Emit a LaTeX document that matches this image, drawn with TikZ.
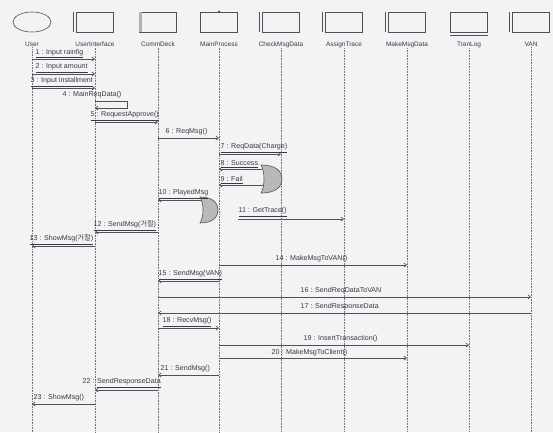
\documentclass[tikz,border=0pt]{standalone}
\usepackage{fontspec}
\setmainfont{Liberation Sans}
\newfontfamily\krfont{Noto Sans CJK KR}
\usetikzlibrary{arrows.meta,shapes.geometric}
\definecolor{bg}{HTML}{F3F3F5}
\definecolor{ln}{HTML}{505055}
\definecolor{tx}{HTML}{3A3A40}
\begin{document}
\begin{tikzpicture}[x=1pt,y=-1pt,
  headbox/.style={draw=ln,line width=0.6pt,minimum width=37pt,minimum height=20pt,inner sep=0pt},
  headell/.style={draw=ln,line width=0.6pt,ellipse,minimum width=38pt,minimum height=20pt,inner sep=0pt},
  headlbl/.style={font=\fontsize{6.5}{7}\selectfont,text=tx,inner sep=0.5pt},
  lifeln/.style={draw=ln!80,line width=0.6pt,densely dotted},
  msg/.style={draw=ln,line width=0.7pt,-{Straight Barb[length=2.5pt,width=4pt]}},
  lbl/.style={font=\fontsize{7.1}{7.5}\selectfont,text=tx,inner sep=0.5pt,anchor=south west},
  gate/.style={draw=ln,line width=0.6pt,fill=gray!55}]
\useasboundingbox[fill=bg] (0,0) rectangle (553,432);
% heads
\node[headell] (user) at (32,22) {};
\node[headbox] (ui) at (95,22) {};
\node[headbox] (cd) at (158,22) {};
\node[headbox] (mp) at (219,22) {};
\node[headbox] (cmd) at (281,22) {};
\node[headbox] (at) at (344,22) {};
\node[headbox] (mmd) at (407,22) {};
\node[headbox] (tl) at (469,22) {};
\node[headbox] (van) at (531,22) {};
% head decorations
\draw[ln,line width=0.6pt] ([xshift=-3pt]ui.north west) -- ([xshift=-3pt]ui.south west);
\fill[gray!60] (cd.north west) rectangle ([xshift=3pt]cd.south west);
\fill[ln] (mp.north) circle (1.3pt);
\draw[ln,line width=0.6pt] ([xshift=-3pt]cmd.north west) -- ([xshift=-3pt]cmd.south west);
\draw[ln,line width=0.6pt] ([xshift=-3pt]at.north west) -- ([xshift=-3pt]at.south west);
\draw[ln,line width=0.6pt] ([xshift=-3pt]mmd.north west) -- ([xshift=-3pt]mmd.south west);
\draw[ln,line width=0.6pt] ([yshift=-2.5pt]tl.south west) -- ([yshift=-2.5pt]tl.south east);
\draw[ln,line width=0.6pt] ([xshift=-3pt]van.north west) -- ([xshift=-3pt]van.south west);
% head labels
\node[headlbl] (userL) at (32,44.5) {User};
\node[headlbl] (uiL) at (95,44.5) {UserInterface};
\node[headlbl] (cdL) at (158,44.5) {CommDeck};
\node[headlbl] (mpL) at (219,44.5) {MainProcess};
\node[headlbl] (cmdL) at (281,44.5) {CheckMsgData};
\node[headlbl] (atL) at (344,44.5) {AssignTrace};
\node[headlbl] (mmdL) at (407,44.5) {MakeMsgData};
\node[headlbl] (tlL) at (469,44.5) {TranLog};
\node[headlbl] (vanL) at (531,44.5) {VAN};
% lifelines
\foreach \n in {user,ui,cd,mp,cmd,at,mmd,tl,van}{
  \draw[lifeln] (\n L.south) -- (\n L.south |- 0,432);
}
% gates
\draw[gate] (261,165) .. controls (277,165) and (282,172) .. (282,179)
  .. controls (282,186) and (277,193) .. (261,193)
  .. controls (265,187) and (265,171) .. (261,165) -- cycle;
\draw[gate] (200,197) .. controls (214,197) and (218,204) .. (218,210)
  .. controls (218,216) and (214,223) .. (200,223)
  .. controls (204,217) and (204,203) .. (200,197) -- cycle;
% messages
\draw[msg] (user |- 0,59) -- (ui |- 0,59);
\node[lbl] (l1) at (35,58.5) {\underline{1 : Input rainfig}};
\draw[msg] (user |- 0,74) -- (ui |- 0,74);
\node[lbl] (l2) at (35,73) {\underline{2 : Input amount}};
\draw[msg] (user |- 0,88) -- (ui |- 0,88);
\node[lbl] (l3) at (30,87) {\underline{3 : Input installment}};
\coordinate (s4a) at (127,101);
\coordinate (s4b) at (127,108);
\draw[msg] (ui |- 0,101) -- (s4a) -- (s4b) -- (ui |- 0,108);
\node[lbl] (l4) at (62,99) {4 : MainReqData()};
\draw[msg] (ui |- 0,122) -- (cd |- 0,122);
\node[lbl] (l5) at (90,121) {\underline{5 : RequestApprove()}};
\draw[msg] (cd |- 0,138) -- (mp |- 0,138);
\node[lbl] (l6) at (165,136) {6 : ReqMsg()};
\draw[msg] (mp |- 0,154) -- (cmd |- 0,154);
\node[lbl] (l7) at (220,153) {\underline{7 : ReqData(Charge)}};
\coordinate (g8) at (262,169);
\draw[msg] (g8) -- (mp |- g8);
\node[lbl] (l8) at (220,168) {\underline{8 : Success}};
\coordinate (g9) at (263,185);
\draw[msg] (g9) -- (mp |- g9);
\node[lbl] (l9) at (220,184) {\underline{9 : Fail}};
\coordinate (g10) at (201,200);
\draw[msg] (g10) -- (cd |- g10);
\node[lbl] (l10) at (158,199) {\underline{10 : PlayedMsg}};
\coordinate (s11) at (238,219);
\draw[msg] (s11) -- (at |- s11);
\node[lbl] (l11) at (238,217) {\underline{11 : GetTrace()}};
\draw[msg] (cd |- 0,232) -- (ui |- 0,232);
\node[lbl] (l12) at (93,231) {\underline{12 : SendMsg({\krfont 거절})}};
\draw[msg] (ui |- 0,246) -- (user |- 0,246);
\node[lbl] (l13) at (29,245) {\underline{13 : ShowMsg({\krfont 거절})}};
\draw[msg] (mp |- 0,265) -- (mmd |- 0,265);
\node[lbl] (l14) at (275,263) {14 : MakeMsgToVAN()};
\draw[msg] (mp |- 0,281) -- (cd |- 0,281);
\node[lbl] (l15) at (158,280) {\underline{15 : SendMsg(VAN)}};
\draw[msg] (cd |- 0,297) -- (van |- 0,297);
\node[lbl] (l16) at (300,295) {16 : SendReqDataToVAN};
\draw[msg] (van |- 0,313) -- (cd |- 0,313);
\node[lbl] (l17) at (300,311) {17 : SendResponseData};
\draw[msg] (cd |- 0,328) -- (mp |- 0,328);
\node[lbl] (l18) at (162,327) {\underline{18 : RecvMsg()}};
\draw[msg] (mp |- 0,345) -- (tl |- 0,345);
\node[lbl] (l19) at (303,343) {19 : InsertTransaction()};
\draw[msg] (mp |- 0,358) -- (mmd |- 0,358);
\node[lbl] (l20) at (271,357) {20 : MakeMsgToClient()};
\draw[msg] (mp |- 0,375) -- (cd |- 0,375);
\node[lbl] (l21) at (160,373) {21 : SendMsg()};
\draw[msg] (cd |- 0,390) -- (ui |- 0,390);
\node[lbl] (l22) at (82,388) {22 : \underline{SendResponseData}};
\draw[msg] (ui |- 0,404) -- (user |- 0,404);
\node[lbl] (l23) at (33,402) {23 : ShowMsg()};
\end{tikzpicture}
\end{document}
